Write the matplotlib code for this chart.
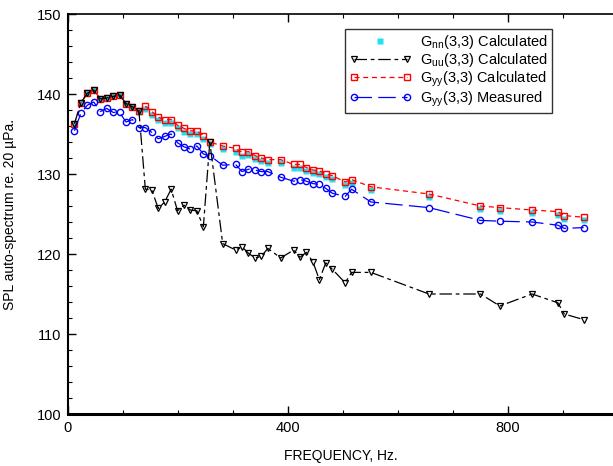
import numpy as np
import matplotlib
matplotlib.use("Agg")
import matplotlib.pyplot as plt
from matplotlib.ticker import MultipleLocator, FixedLocator
from matplotlib.legend_handler import HandlerLine2D

plt.rcParams['font.family'] = ['Liberation Sans', 'DejaVu Sans']
plt.rcParams['mathtext.fontset'] = 'custom'
plt.rcParams['mathtext.rm'] = 'Liberation Sans'

# frequency bin index (bin width 11.71875 Hz)
bin_hz = 11.71875
bins = [1, 2, 3, 4, 5, 6, 7, 8, 9, 10, 11, 12, 13, 14, 15, 16, 17, 18, 19, 20,
        21, 22, 24, 26, 27, 28, 29, 30, 31, 33, 35, 36, 37, 38, 39, 40, 41,
        43, 44, 47, 56, 64, 67, 72, 76, 77, 80]

# Gyy(3,3) calculated
gyy_calc = [136.3, 138.9, 140.1, 140.5, 139.4, 139.5, 139.7, 139.9, 138.8, 138.4,
            137.9, 138.5, 137.8, 137.1, 136.8, 136.8, 136.1, 135.7, 135.4, 135.4,
            134.8, 134.0, 133.5, 133.2, 132.7, 132.8, 132.3, 132.0, 131.8, 131.8,
            131.2, 131.2, 130.8, 130.5, 130.4, 130.0, 129.8,
            129.0, 129.3, 128.4, 127.5, 126.0, 125.8, 125.5, 125.3, 124.8, 124.6]

# Gnn(3,3) calculated
gnn_calc = [136.3, 138.9, 140.1, 140.5, 139.4, 139.5, 139.7, 139.9, 138.8, 138.4,
            137.8, 138.1, 137.4, 136.7, 136.4, 136.4, 135.7, 135.3, 135.0, 135.0,
            134.4, 133.7, 133.1, 132.8, 132.3, 132.4, 131.9, 131.6, 131.4, 131.4,
            130.8, 130.8, 130.4, 130.1, 130.0, 129.6, 129.4,
            128.6, 128.9, 128.0, 127.1, 125.6, 125.4, 125.1, 124.9, 124.4, 124.2]

# Guu(3,3) calculated
guu_calc = [136.3, 138.9, 140.1, 140.5, 139.4, 139.5, 139.7, 139.9, 138.8, 138.4,
            137.9, 128.1, 128.0, 125.7, 126.5, 128.1, 125.4, 126.1, 125.5, 125.4,
            123.4, 134.0, 121.3, 120.5, 120.9, 120.1, 119.5, 119.7, 120.7, 119.5,
            120.5, 119.6, 120.2, 119.0, 116.8, 118.9, 118.1,
            116.4, 117.7, 117.7, 115.0, 115.0, 113.5, 115.0, 113.9, 112.5, 111.8]

# Gyy(3,3) measured
gyy_meas = [135.4, 137.6, 138.6, 139.0, 137.8, 138.2, 137.7, 137.7, 136.5, 136.8,
            135.8, 135.8, 135.2, 134.4, 134.7, 135.0, 133.9, 133.4, 133.1, 133.5,
            132.5, 132.3, 131.1, 131.2, 130.3, 130.6, 130.5, 130.3, 130.3, 129.6,
            129.1, 129.3, 129.1, 128.8, 128.7, 128.2, 127.6,
            127.2, 128.1, 126.5, 125.8, 124.2, 124.1, 124.0, 123.6, 123.2, 123.3]

freq = np.array(bins) * bin_hz

fig = plt.figure(figsize=(6.13, 4.66), dpi=100)
ax = fig.add_axes([68 / 613, 52 / 466, 545 / 613, 400 / 466])

nn_line, = ax.plot(freq, gnn_calc, ls='none', marker='s', ms=4.2, mfc='#22e0f0',
                   mec='none', zorder=2, label=r'G$_\mathrm{nn}$(3,3) Calculated')
ax.plot(freq, guu_calc, color='black', lw=0.9, dashes=(10, 3, 3, 3),
        marker='v', ms=4, mfc='none', mec='black', mew=0.9, zorder=5,
        label=r'G$_\mathrm{uu}$(3,3) Calculated')
ax.plot(freq, gyy_calc, color='red', lw=0.9, dashes=(4, 3),
        marker='s', ms=5, mfc='none', mec='red', mew=1.0, zorder=3,
        label=r'G$_\mathrm{yy}$(3,3) Calculated')
ax.plot(freq, gyy_meas, color='blue', lw=0.9, dashes=(14, 5),
        marker='o', ms=4.5, mfc='none', mec='blue', mew=1.0, zorder=4,
        label=r'G$_\mathrm{yy}$(3,3) Measured')

ax.set_xlim(0, 545 / 0.55)
ax.set_ylim(100, 150)

ax.xaxis.set_major_locator(FixedLocator([0, 400, 800]))
ax.xaxis.set_minor_locator(MultipleLocator(100))
ax.yaxis.set_major_locator(MultipleLocator(10))
ax.yaxis.set_minor_locator(MultipleLocator(2))
ax.tick_params(which='both', direction='in', top=True, right=False,
               labelsize=10.5, pad=5)
ax.tick_params(which='major', length=6, width=1)
ax.tick_params(which='minor', length=3, width=0.8)

ax.spines['right'].set_visible(False)
ax.spines['bottom'].set_linewidth(2.2)
ax.spines['left'].set_linewidth(1.5)
ax.spines['top'].set_linewidth(1.2)

ax.set_xlabel('FREQUENCY, Hz.', fontsize=10, labelpad=10)
ax.set_ylabel('SPL auto-spectrum re. 20 \u00b5Pa.', fontsize=10, labelpad=14)

leg = ax.legend(loc='upper right', bbox_to_anchor=(0.888, 0.9625), fontsize=10.5,
                handlelength=4.2, numpoints=2, frameon=True, fancybox=False,
                borderpad=0.3, labelspacing=0.0, handletextpad=0.6,
                borderaxespad=0, handler_map={nn_line: HandlerLine2D(numpoints=1)})
leg.get_frame().set_edgecolor('black')
leg.get_frame().set_linewidth(1.0)

fig.savefig('out.png', dpi=100)
